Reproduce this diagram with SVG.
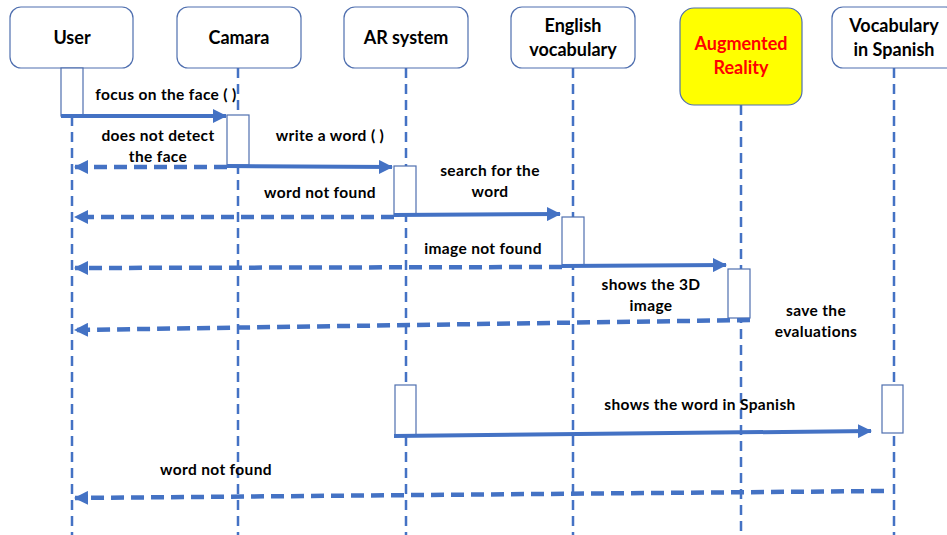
<svg xmlns="http://www.w3.org/2000/svg" width="947" height="535" viewBox="0 0 947 535">
<style>
.node{fill:#fff;stroke:#4F6FAF;stroke-width:1.2}
.title{font-family:Lato,"Liberation Sans",sans-serif;font-weight:bold;font-size:18px;fill:#000;text-anchor:middle}
.lbl{font-family:Lato,"Liberation Sans",sans-serif;font-weight:bold;font-size:15.5px;letter-spacing:0.35px;fill:#000;text-anchor:middle}
.life{stroke:#4472C4;stroke-width:2.5;stroke-dasharray:10 6;fill:none}
.act{fill:#fff;stroke:#4F6FAF;stroke-width:1.2}
.msg{stroke:#4472C4;stroke-width:4;fill:none;marker-end:url(#ah)}
.ret{stroke:#4472C4;stroke-width:4.5;stroke-dasharray:13 7;fill:none;marker-end:url(#ah)}
</style>
<defs>
<marker id="ah" markerUnits="userSpaceOnUse" markerWidth="14" markerHeight="14" viewBox="0 0 14 14" refX="13" refY="7" orient="auto">
<path d="M0,0 L14,7 L0,14 Z" fill="#4472C4"/>
</marker>
</defs>
<g id="lifelines">
<line class="life" x1="72" y1="116" x2="72" y2="535"/>
<line class="life" x1="238" y1="68" x2="238" y2="535"/>
<line class="life" x1="406" y1="68" x2="406" y2="535"/>
<line class="life" x1="573" y1="68" x2="573" y2="535"/>
<line class="life" x1="741" y1="105" x2="741" y2="535"/>
<line class="life" x1="894" y1="68" x2="894" y2="535"/>
</g>
<g id="user"><rect class="node" x="10" y="7" width="123" height="61" rx="11"/><text class="title" x="72" y="44">User</text></g>
<g id="camara"><rect class="node" x="177" y="7" width="124" height="61" rx="11"/><text class="title" x="239" y="44">Camara</text></g>
<g id="ar-system"><rect class="node" x="344" y="7" width="124" height="61" rx="11"/><text class="title" x="406" y="44">AR system</text></g>
<g id="english-vocabulary"><rect class="node" x="511" y="7" width="124" height="61" rx="11"/><text class="title" x="573" y="32">English</text><text class="title" x="573" y="56">vocabulary</text></g>
<g id="augmented-reality"><rect x="680" y="8" width="122" height="97" rx="14" fill="#FFFF00" stroke="#4F6FAF" stroke-width="1.2"/><text class="title" x="741" y="50" style="fill:#FF0000">Augmented</text><text class="title" x="741" y="74" style="fill:#FF0000">Reality</text></g>
<g id="vocabulary-spanish"><rect class="node" x="832" y="7" width="125" height="61" rx="11"/><text class="title" x="894" y="32">Vocabulary</text><text class="title" x="894" y="56">in Spanish</text></g>
<g id="activations">
<rect class="act" x="61" y="68" width="22" height="48"/>
<rect class="act" x="227" y="115" width="22" height="50"/>
<rect class="act" x="394" y="166" width="22" height="49"/>
<rect class="act" x="562" y="217" width="22" height="49"/>
<rect class="act" x="728" y="269" width="22" height="49"/>
<rect class="act" x="395" y="385" width="21" height="50"/>
<rect class="act" x="882" y="385" width="21" height="48"/>
</g>
<g id="connectors">
<line class="msg" x1="61" y1="116" x2="226" y2="116"/>
<line class="ret" x1="227" y1="167" x2="75" y2="167"/>
<line class="msg" x1="227" y1="166" x2="392" y2="167"/>
<line class="ret" x1="394" y1="217" x2="75" y2="217"/>
<line class="msg" x1="394" y1="215" x2="560" y2="214"/>
<line class="ret" x1="562" y1="267" x2="75" y2="268"/>
<line class="msg" x1="562" y1="266" x2="726" y2="265"/>
<line class="ret" x1="750" y1="320" x2="75" y2="330"/>
<line class="msg" x1="394" y1="436" x2="871" y2="431"/>
<line class="ret" x1="884" y1="491" x2="75" y2="498"/>
</g>
<g id="labels">
<text class="lbl" x="166" y="100">focus on the face ( )</text>
<text class="lbl" x="158" y="141">does not detect</text>
<text class="lbl" x="158" y="162">the face</text>
<text class="lbl" x="330" y="141">write a word ( )</text>
<text class="lbl" x="320" y="198">word not found</text>
<text class="lbl" x="490" y="176">search for the</text>
<text class="lbl" x="490" y="197">word</text>
<text class="lbl" x="483" y="254">image not found</text>
<text class="lbl" x="651" y="290">shows the 3D</text>
<text class="lbl" x="651" y="311">image</text>
<text class="lbl" x="816" y="316">save the</text>
<text class="lbl" x="816" y="337">evaluations</text>
<text class="lbl" x="700" y="410">shows the word in Spanish</text>
<text class="lbl" x="216" y="475">word not found</text>
</g>
</svg>
